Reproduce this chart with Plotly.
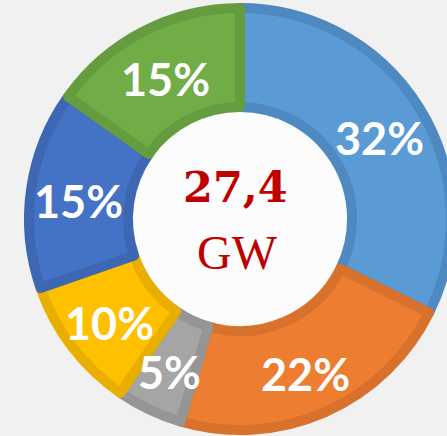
import math
import plotly.graph_objects as go

# Data
labels = ["Slice A", "Slice B", "Slice C", "Slice D", "Slice E", "Slice F"]
values = [32, 22, 5, 10, 15, 15]
value_labels = ["32%", "22%", "5%", "10%", "15%", "15%"]
fill_colors = ["#5B9BD5", "#ED7D31", "#A5A5A5", "#FFC000", "#4472C4", "#70AD47"]
edge_colors = ["#4F89C1", "#D8712C", "#959595", "#E8AF00", "#3D67B2", "#659C40"]
center_value = "27,4"
center_unit = "GW"

HOLE = 0.531
fig = go.Figure()

# white disc behind the hole
fig.add_trace(go.Pie(
    values=[1], marker=dict(colors=["#FCFCFC"], line=dict(width=0)),
    textinfo="none", hoverinfo="skip", showlegend=False, sort=False,
))

fig.add_trace(go.Pie(
    labels=labels, values=values, text=value_labels, textinfo="none",
    hole=HOLE, sort=False, direction="clockwise", rotation=0,
    marker=dict(colors=fill_colors, line=dict(color=edge_colors, width=10)),
    showlegend=False, hoverinfo="label+text",
))

# slice labels placed at the middle of each ring segment (derived from values)
total = sum(values)
ring_mid = (1 + HOLE) / 4 + 0.005   # in fraction of the domain width
cum = 0
for v, t in zip(values, value_labels):
    mid = (cum + v / 2) / total * 2 * math.pi
    cum += v
    fig.add_annotation(
        text=t, x=0.5 + ring_mid * math.sin(mid), y=0.5 + ring_mid * math.cos(mid) - 0.012,
        xref="paper", yref="paper", showarrow=False, xanchor="center", yanchor="middle",
        font=dict(family="Lato", size=45, color="white", weight="bold"),
    )

fig.add_annotation(text=center_value, x=0.4905, y=0.575, xref="paper", yref="paper",
                   showarrow=False, xanchor="center", yanchor="middle",
                   font=dict(family="DejaVu Serif", size=43, color="#C00000", weight="bold"))
fig.add_annotation(text=center_unit, x=0.495, y=0.42, xref="paper", yref="paper",
                   showarrow=False, xanchor="center", yanchor="middle",
                   font=dict(family="Liberation Serif", size=48, color="#C00000"))

fig.update_layout(
    width=451, height=436,
    margin=dict(l=29, r=0, t=8, b=6),
    paper_bgcolor="#F1F1F1", plot_bgcolor="#F1F1F1",
)

fig.write_html("out.html", config={"displayModeBar": False},
               post_script="document.body.style.margin='0';document.body.style.overflow='hidden';")
